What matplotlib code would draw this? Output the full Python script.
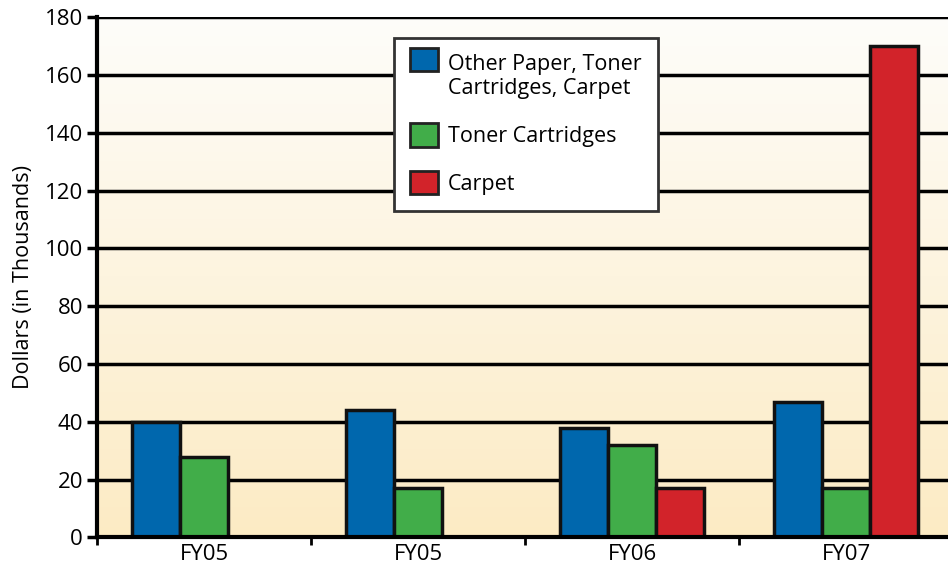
import numpy as np
import matplotlib
matplotlib.use("Agg")
from matplotlib import pyplot as plt
from matplotlib.patches import Rectangle
from matplotlib.legend_handler import HandlerPatch

plt.rcParams['font.family'] = ['Open Sans', 'DejaVu Sans']

categories = ["FY05", "FY05", "FY06", "FY07"]
other_paper = [40, 44, 38, 47]
toner = [28, 17, 32, 17]
carpet = [None, None, 17, 170]  # no carpet bars for the first two years

series = [("Other Paper, Toner\nCartridges, Carpet", other_paper, "#0067ad"),
          ("Toner Cartridges", toner, "#41ad49"),
          ("Carpet", carpet, "#d2232a")]

fig = plt.figure(figsize=(9.48, 5.74), dpi=100)
ax = fig.add_axes([0.1023, 0.0636, 0.903, 0.9063])

# cream gradient background, white at the top
grad = np.linspace(0, 1, 256).reshape(-1, 1)
top = np.array([254, 253, 250]) / 255
bot = np.array([252, 235, 196]) / 255
img = top + (bot - top) * grad[:, :, None] * np.ones((1, 1, 3))
ax.imshow(img, extent=[-0.5, 3.5, 0, 180], aspect='auto', origin='upper', zorder=0)

w = 0.224
x = np.arange(len(categories))
for j, (name, vals, col) in enumerate(series):
    xs = [x[i] + (j - 1) * w for i, v in enumerate(vals) if v is not None]
    hs = [v for v in vals if v is not None]
    ax.bar(xs, hs, width=w, color=col, edgecolor="#111111", linewidth=2.5, zorder=3)

ax.set_xlim(-0.5, 3.5)
ax.set_ylim(0, 180)
ax.set_yticks(np.arange(0, 181, 20))
ax.set_xticks(x)
ax.set_xticklabels(categories)
ax.set_xticks([-0.5, 0.5, 1.5, 2.5, 3.5], minor=True)
ax.tick_params(axis='x', which='major', length=0, labelsize=16, pad=5)
ax.tick_params(axis='x', which='minor', length=6, width=2, direction='out')
ax.tick_params(axis='y', length=7, width=2.5, labelsize=16, pad=3)

ax.yaxis.grid(True, color='black', linewidth=2.5, zorder=1)
ax.set_axisbelow(True)
for s in ['top', 'right']:
    ax.spines[s].set_visible(False)
for s in ['left', 'bottom']:
    ax.spines[s].set_linewidth(3)
    ax.spines[s].set_zorder(4)

ax.set_ylabel("Dollars (in Thousands)", fontsize=15.5, labelpad=8)


def square(shift):
    # legend swatch, optionally lifted to sit on the first text line
    def make(legend, orig_handle, xdescent, ydescent, width, height, fontsize):
        return Rectangle((-xdescent, -ydescent + shift), width, height)
    return HandlerPatch(patch_func=make)


handles = [Rectangle((0, 0), 1, 1, facecolor=col, edgecolor='#222222', linewidth=2)
           for _, _, col in series]
labels = [name for name, _, _ in series]
leg = ax.legend(handles, labels, loc='upper left', bbox_to_anchor=(0.347, 0.960),
                borderaxespad=0, fontsize=15.5, frameon=True, fancybox=False,
                handlelength=1.3, handleheight=1.3, labelspacing=1.1, borderpad=0.75,
                handletextpad=0.45,
                handler_map={handles[0]: square(13), handles[1]: square(0),
                             handles[2]: square(0)})
leg.get_frame().set_edgecolor('#333333')
leg.get_frame().set_linewidth(2)
leg.get_frame().set_alpha(1)
leg.set_zorder(5)

plt.savefig("out.png", dpi=100)
